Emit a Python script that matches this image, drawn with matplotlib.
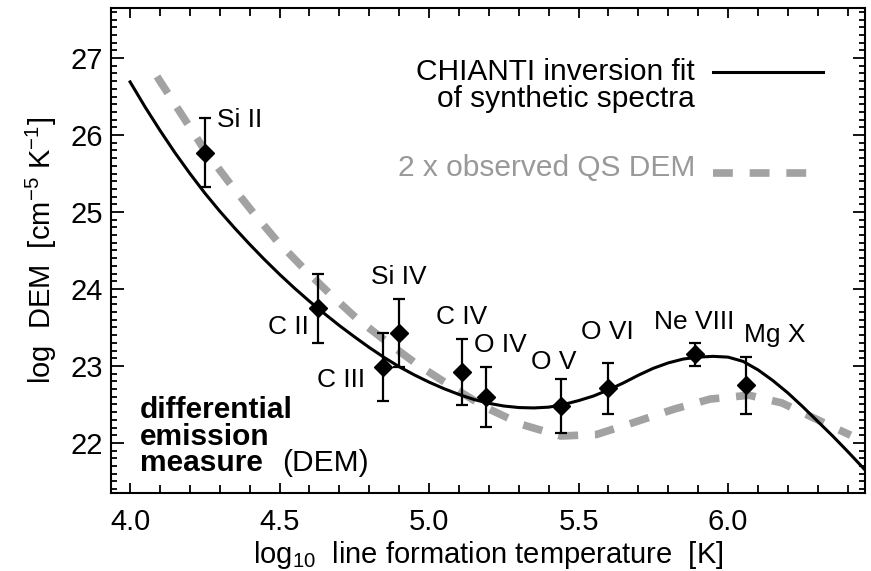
import matplotlib
matplotlib.use('Agg')
import matplotlib.pyplot as plt
from matplotlib.ticker import MultipleLocator, FormatStrFormatter

plt.rcParams['font.family'] = ['Liberation Sans', 'DejaVu Sans']
plt.rcParams['mathtext.fontset'] = 'custom'
plt.rcParams['mathtext.rm'] = 'Liberation Sans'
plt.rcParams['mathtext.it'] = 'Liberation Sans:italic'

# observed line points (log T, log DEM, error)
ions = ['Si II', 'C II', 'C III', 'Si IV', 'C IV', 'O IV', 'O V', 'O VI', 'Ne VIII', 'Mg X']
ion_logt = [4.25, 4.63, 4.845, 4.90, 5.11, 5.19, 5.44, 5.60, 5.89, 6.06]
ion_dem = [25.77, 23.75, 22.99, 23.43, 22.92, 22.60, 22.48, 22.71, 23.15, 22.75]
ion_err = [0.45, 0.45, 0.44, 0.44, 0.43, 0.39, 0.35, 0.33, 0.15, 0.37]

# where the ion names sit
label_x = [4.368, 4.528, 4.706, 4.90, 5.11, 5.24, 5.418, 5.595, 5.886, 6.157]
label_y = [26.19, 23.51, 22.82, 24.16, 23.64, 23.27, 23.05, 23.44, 23.57, 23.40]

# CHIANTI inversion fit (solid)
fit_logt = [4.00, 4.05, 4.10, 4.15, 4.20, 4.25, 4.30, 4.35, 4.40, 4.45, 4.50, 4.55,
            4.60, 4.65, 4.70, 4.75, 4.80, 4.85, 4.90, 4.95, 5.00, 5.05, 5.10, 5.15,
            5.20, 5.25, 5.30, 5.35, 5.40, 5.45, 5.50, 5.55, 5.60, 5.65, 5.70, 5.75,
            5.80, 5.85, 5.90, 5.95, 6.00, 6.05, 6.10, 6.15, 6.20, 6.25, 6.30, 6.35,
            6.40, 6.458]
fit_dem = [26.69, 26.365, 26.06, 25.77, 25.50, 25.245, 25.01, 24.79, 24.58, 24.38, 24.19, 24.01,
           23.84, 23.68, 23.525, 23.38, 23.24, 23.11, 22.99, 22.885, 22.79, 22.705, 22.63, 22.565,
           22.515, 22.48, 22.46, 22.455, 22.465, 22.50, 22.55, 22.61, 22.69, 22.78, 22.88, 22.97,
           23.04, 23.09, 23.115, 23.125, 23.115, 23.06, 22.95, 22.81, 22.65, 22.47, 22.28, 22.09,
           21.89, 21.65]

# 2 x observed quiet Sun DEM (dashed)
qs_logt = [4.09, 4.18, 4.25, 4.33, 4.41, 4.49, 4.58, 4.67, 4.76, 4.87, 4.96, 5.08, 5.19,
           5.31, 5.44, 5.56, 5.68, 5.82, 5.94, 6.07, 6.18, 6.30, 6.41]
qs_dem = [26.76, 26.22, 25.80, 25.39, 25.00, 24.63, 24.27, 23.93, 23.61, 23.28, 23.02, 22.72,
          22.46, 22.24, 22.09, 22.11, 22.26, 22.44, 22.57, 22.62, 22.52, 22.30, 22.10]

gray = '#a2a2a2'
dash = (0, (2.6, 2.2))

fig = plt.figure(figsize=(8.71, 5.71), dpi=100)
ax = fig.add_axes([0.1274, 0.1366, 0.8657, 0.8494])

ax.plot(qs_logt, qs_dem, color=gray, lw=5.5, linestyle=dash)
ax.plot(fit_logt, fit_dem, color='black', lw=2.2)
ax.errorbar(ion_logt, ion_dem, yerr=ion_err, fmt='D', color='black', ms=9,
            elinewidth=1.6, capsize=4.5, capthick=1.6)

for name, lx, ly in zip(ions, label_x, label_y):
    ax.text(lx, ly, name, fontsize=19, ha='center', va='center')

# hand-made legend
ax.text(0.7745, 0.868, 'CHIANTI inversion fit', transform=ax.transAxes,
        fontsize=21.5, ha='right', va='center')
ax.text(0.7745, 0.812, 'of synthetic spectra', transform=ax.transAxes,
        fontsize=21.5, ha='right', va='center')
ax.plot([0.798, 0.944], [0.868, 0.868], transform=ax.transAxes, color='black', lw=2.2)
ax.text(0.7745, 0.670, '2 x observed QS DEM', transform=ax.transAxes,
        fontsize=21.5, ha='right', va='center', color='#999999')
ax.plot([0.798, 0.927], [0.660, 0.660], transform=ax.transAxes, color=gray, lw=5.5,
        linestyle=dash)

ax.text(0.0385, 0.171, 'differential', transform=ax.transAxes, fontsize=21.5,
        fontweight='bold', ha='left', va='center')
ax.text(0.0385, 0.115, 'emission', transform=ax.transAxes, fontsize=21.5,
        fontweight='bold', ha='left', va='center')
ax.text(0.0385, 0.062, 'measure', transform=ax.transAxes, fontsize=21.5,
        fontweight='bold', ha='left', va='center')
ax.text(0.227, 0.062, '(DEM)', transform=ax.transAxes, fontsize=21.5,
        ha='left', va='center')

ax.set_xlim(3.936, 6.458)
ax.set_ylim(21.35, 27.65)
ax.xaxis.set_major_locator(MultipleLocator(0.5))
ax.xaxis.set_minor_locator(MultipleLocator(0.1))
ax.yaxis.set_major_locator(MultipleLocator(1))
ax.yaxis.set_minor_locator(MultipleLocator(0.1))
ax.xaxis.set_major_formatter(FormatStrFormatter('%.1f'))

ax.tick_params(which='both', direction='in', top=True, right=True, width=1.3)
ax.tick_params(axis='x', which='major', length=7, pad=11, labelsize=21)
ax.tick_params(axis='x', which='minor', length=5.5)
ax.tick_params(axis='y', which='major', length=9, pad=6, labelsize=21)
ax.tick_params(axis='y', which='minor', length=4)
for s in ax.spines.values():
    s.set_linewidth(1.5)

ax.set_xlabel('log$_{10}$  line formation temperature  [K]', fontsize=21, labelpad=2)
ax.set_ylabel('log  DEM  [cm$^{-5}$ K$^{-1}$]', fontsize=21, labelpad=8)

fig.savefig('out.png', dpi=100)
